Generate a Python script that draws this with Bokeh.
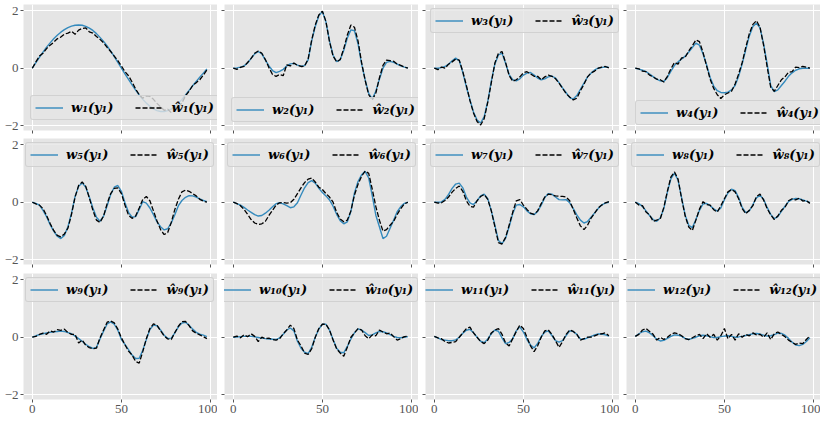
from bokeh.plotting import figure
from bokeh.models import Legend, LegendItem, FixedTicker
from bokeh.layouts import row, column
from bokeh.embed import file_html
from bokeh.resources import INLINE

x = list(range(0, 100, 2))

w1 = [0.00, 0.19, 0.38, 0.56, 0.73, 0.88, 1.02, 1.14, 1.25, 1.34,
      1.41, 1.46, 1.49, 1.50, 1.49, 1.45, 1.39, 1.31, 1.20, 1.07,
      0.93, 0.77, 0.59, 0.40, 0.20, 0.00, -0.20, -0.39, -0.58, -0.76,
      -0.93, -1.08, -1.21, -1.32, -1.41, -1.47, -1.50, -1.50, -1.47, -1.42,
      -1.33, -1.22, -1.08, -0.93, -0.77, -0.61, -0.46, -0.31, -0.17, -0.03]
h1 = [0.00, 0.22, 0.42, 0.52, 0.68, 0.80, 0.90, 1.02, 1.08, 1.18,
      1.22, 1.28, 1.18, 1.32, 1.38, 1.40, 1.26, 1.22, 1.10, 1.00,
      0.88, 0.72, 0.58, 0.42, 0.26, 0.08, -0.12, -0.26, -0.48, -0.72,
      -0.92, -1.04, -0.96, -0.98, -1.08, -1.22, -1.34, -1.46, -1.42, -1.54,
      -1.46, -1.34, -1.20, -0.96, -0.80, -0.60, -0.50, -0.40, -0.24, -0.06]

w2 = [0.00, 0.01, 0.04, 0.08, 0.18, 0.34, 0.50, 0.58, 0.50, 0.28,
      0.08, -0.08, -0.15, -0.11, -0.04, 0.08, 0.15, 0.17, 0.11, 0.07,
      0.09, 0.29, 0.95, 1.45, 1.82, 1.97, 1.60, 0.95, 0.45, 0.23,
      0.29, 0.62, 1.05, 1.33, 1.30, 0.85, 0.15, -0.40, -0.87, -1.06,
      -0.80, -0.38, 0.00, 0.20, 0.24, 0.20, 0.14, 0.08, 0.04, 0.01]
h2 = [0.00, -0.04, 0.03, 0.06, 0.20, 0.34, 0.52, 0.60, 0.52, 0.30,
      0.02, -0.22, -0.28, -0.22, -0.26, 0.12, 0.08, 0.18, 0.10, 0.06,
      0.07, 0.32, 0.98, 1.50, 1.85, 1.98, 1.62, 0.92, 0.42, 0.22,
      0.30, 0.68, 1.15, 1.50, 1.42, 0.95, 0.20, -0.42, -0.92, -1.10,
      -0.86, -0.34, 0.10, 0.28, 0.26, 0.24, 0.14, 0.10, 0.04, 0.00]

w3 = [0.00, 0.00, 0.02, 0.06, 0.14, 0.26, 0.35, 0.26, -0.15, -0.65,
      -1.10, -1.52, -1.80, -1.90, -1.68, -1.15, -0.45, 0.15, 0.46, 0.52,
      0.17, -0.22, -0.40, -0.44, -0.37, -0.24, -0.17, -0.15, -0.24, -0.34,
      -0.40, -0.37, -0.30, -0.27, -0.34, -0.50, -0.68, -0.85, -1.02, -1.07,
      -0.95, -0.73, -0.52, -0.31, -0.17, -0.06, 0.00, 0.02, 0.05, 0.03]
h3 = [0.00, -0.05, 0.04, 0.00, 0.14, 0.22, 0.32, 0.28, -0.12, -0.60,
      -1.12, -1.55, -1.85, -1.97, -1.75, -1.18, -0.50, 0.18, 0.52, 0.58,
      0.20, -0.25, -0.45, -0.40, -0.30, -0.16, -0.12, -0.20, -0.28, -0.28,
      -0.40, -0.30, -0.24, -0.28, -0.36, -0.52, -0.70, -0.88, -1.00, -1.10,
      -1.04, -0.78, -0.56, -0.30, -0.16, -0.10, 0.00, 0.04, 0.06, 0.01]

w4 = [0.00, -0.03, -0.07, -0.12, -0.20, -0.29, -0.38, -0.44, -0.46, -0.32,
      -0.10, 0.10, 0.22, 0.32, 0.42, 0.56, 0.72, 0.87, 0.80, 0.50,
      0.12, -0.32, -0.62, -0.78, -0.84, -0.85, -0.83, -0.75, -0.60, -0.28,
      0.15, 0.65, 1.12, 1.45, 1.56, 1.40, 0.85, 0.15, -0.60, -0.81,
      -0.75, -0.60, -0.45, -0.28, -0.16, -0.07, -0.02, 0.00, 0.00, 0.00]
h4 = [0.00, -0.02, -0.10, -0.12, -0.24, -0.30, -0.38, -0.40, -0.48, -0.28,
      -0.02, 0.20, 0.14, 0.36, 0.38, 0.60, 0.78, 0.98, 0.92, 0.55,
      0.08, -0.38, -0.70, -0.92, -1.05, -0.92, -0.86, -0.80, -0.55, -0.20,
      0.20, 0.72, 1.20, 1.52, 1.65, 1.42, 0.80, 0.05, -0.66, -0.80,
      -0.60, -0.40, -0.30, -0.14, -0.12, 0.04, 0.02, 0.06, 0.04, 0.00]

w5 = [0.00, -0.04, -0.10, -0.28, -0.50, -0.78, -1.00, -1.18, -1.26, -1.15,
      -0.85, -0.38, 0.20, 0.55, 0.67, 0.52, 0.18, -0.20, -0.52, -0.66,
      -0.48, -0.12, 0.27, 0.52, 0.58, 0.38, -0.02, -0.35, -0.52, -0.50,
      -0.25, 0.02, -0.03, -0.20, -0.43, -0.68, -0.85, -0.96, -0.92, -0.72,
      -0.43, -0.12, 0.06, 0.17, 0.23, 0.22, 0.18, 0.12, 0.06, 0.02]
h5 = [0.00, -0.06, -0.10, -0.22, -0.46, -0.74, -0.98, -1.15, -1.20, -1.10,
      -0.90, -0.42, 0.18, 0.58, 0.70, 0.55, 0.15, -0.28, -0.62, -0.70,
      -0.48, -0.05, 0.30, 0.48, 0.50, 0.30, -0.10, -0.45, -0.56, -0.48,
      -0.20, 0.10, 0.20, 0.05, -0.30, -0.65, -0.95, -1.12, -1.05, -0.70,
      -0.25, 0.10, 0.36, 0.42, 0.38, 0.30, 0.22, 0.10, 0.04, 0.00]

w6 = [0.00, -0.05, -0.10, -0.18, -0.27, -0.35, -0.43, -0.48, -0.46, -0.38,
      -0.28, -0.16, -0.05, -0.02, -0.06, -0.12, -0.19, -0.16, -0.02, 0.25,
      0.50, 0.68, 0.75, 0.66, 0.48, 0.34, 0.22, 0.08, -0.14, -0.42,
      -0.64, -0.75, -0.68, -0.32, 0.32, 0.72, 0.95, 1.07, 0.84, 0.22,
      -0.45, -0.85, -1.26, -1.18, -0.90, -0.62, -0.33, -0.15, -0.04, 0.00]
h6 = [0.00, -0.05, -0.12, -0.25, -0.42, -0.60, -0.72, -0.77, -0.75, -0.66,
      -0.46, -0.28, -0.10, -0.02, -0.01, -0.03, -0.02, 0.10, 0.30, 0.50,
      0.68, 0.80, 0.84, 0.70, 0.52, 0.44, 0.30, 0.18, 0.00, -0.35,
      -0.58, -0.68, -0.62, -0.30, 0.25, 0.62, 0.90, 1.08, 1.00, 0.45,
      -0.15, -0.62, -1.00, -0.95, -0.80, -0.66, -0.42, -0.22, -0.06, 0.00]

w7 = [0.00, 0.00, 0.01, 0.10, 0.27, 0.48, 0.63, 0.66, 0.50, 0.18,
      -0.02, -0.08, 0.05, 0.22, 0.28, 0.12, -0.30, -0.80, -1.33, -1.44,
      -1.25, -0.85, -0.40, -0.10, -0.08, -0.16, -0.30, -0.40, -0.43, -0.32,
      -0.10, 0.16, 0.30, 0.28, 0.18, 0.09, 0.08, 0.09, -0.02, -0.22,
      -0.44, -0.62, -0.72, -0.67, -0.52, -0.37, -0.22, -0.09, -0.03, 0.00]
h7 = [0.00, -0.03, -0.02, 0.06, 0.18, 0.35, 0.48, 0.56, 0.38, 0.05,
      -0.14, -0.17, 0.05, 0.20, 0.27, 0.10, -0.30, -0.85, -1.40, -1.45,
      -1.22, -0.80, -0.35, 0.05, 0.09, -0.10, -0.25, -0.38, -0.42, -0.30,
      -0.05, 0.18, 0.28, 0.26, 0.22, 0.21, 0.20, 0.18, 0.05, -0.25,
      -0.55, -0.82, -0.95, -0.80, -0.55, -0.38, -0.20, -0.10, -0.02, 0.02]

w8 = [0.00, -0.05, -0.15, -0.30, -0.46, -0.60, -0.66, -0.55, -0.22, 0.35,
      0.82, 1.01, 0.76, 0.15, -0.45, -0.80, -0.88, -0.60, -0.28, -0.06,
      -0.04, -0.12, -0.23, -0.31, -0.20, 0.09, 0.32, 0.45, 0.40, 0.16,
      -0.18, -0.36, -0.30, -0.08, 0.15, 0.24, 0.10, -0.18, -0.42, -0.57,
      -0.50, -0.32, -0.14, 0.02, 0.10, 0.13, 0.12, 0.08, 0.04, -0.01]
h8 = [0.00, -0.10, -0.12, -0.34, -0.44, -0.66, -0.62, -0.58, -0.18, 0.38,
      0.88, 1.05, 0.80, 0.12, -0.48, -0.86, -0.98, -0.62, -0.24, 0.02,
      -0.08, -0.10, -0.26, -0.34, -0.12, 0.12, 0.36, 0.44, 0.36, 0.12,
      -0.22, -0.40, -0.28, -0.12, 0.20, 0.28, 0.08, -0.22, -0.44, -0.60,
      -0.48, -0.28, -0.18, 0.05, 0.12, 0.08, 0.14, 0.04, 0.06, -0.04]

w9 = [0.00, 0.05, 0.09, 0.12, 0.15, 0.17, 0.19, 0.20, 0.21, 0.20,
      0.16, 0.12, 0.04, -0.05, -0.14, -0.25, -0.33, -0.39, -0.35, -0.06,
      0.21, 0.46, 0.53, 0.45, 0.25, -0.08, -0.25, -0.43, -0.62, -0.74,
      -0.73, -0.45, -0.08, 0.27, 0.42, 0.40, 0.25, 0.07, -0.04, -0.03,
      0.15, 0.36, 0.49, 0.52, 0.42, 0.28, 0.17, 0.11, 0.07, 0.02]
h9 = [0.00, 0.03, 0.10, 0.14, 0.10, 0.22, 0.18, 0.26, 0.24, 0.28,
      0.16, 0.10, 0.10, -0.20, -0.10, -0.28, -0.36, -0.40, -0.38, -0.02,
      0.25, 0.52, 0.56, 0.50, 0.28, -0.02, -0.26, -0.48, -0.62, -0.84,
      -0.90, -0.50, -0.05, 0.30, 0.46, 0.42, 0.22, 0.05, -0.06, -0.08,
      0.16, 0.38, 0.54, 0.55, 0.40, 0.22, 0.14, 0.08, 0.02, -0.05]

w10 = [0.00, 0.01, 0.02, 0.03, 0.03, 0.03, 0.01, -0.01, -0.03, -0.05,
       -0.06, -0.07, -0.08, -0.02, 0.10, 0.25, 0.32, 0.22, -0.14, -0.38,
       -0.52, -0.57, -0.35, 0.00, 0.28, 0.45, 0.45, 0.25, -0.08, -0.38,
       -0.52, -0.54, -0.32, -0.06, 0.15, 0.29, 0.25, 0.16, 0.06, 0.08,
       0.15, 0.20, 0.19, 0.15, 0.09, 0.03, -0.01, -0.02, 0.00, 0.02]
h10 = [0.00, 0.04, -0.02, 0.08, 0.02, 0.12, 0.03, -0.15, 0.00, -0.05,
       -0.03, -0.08, -0.10, -0.05, 0.12, 0.25, 0.42, 0.30, -0.10, -0.30,
       -0.55, -0.60, -0.40, 0.00, 0.30, 0.45, 0.45, 0.25, -0.10, -0.40,
       -0.55, -0.66, -0.35, 0.00, 0.15, 0.30, 0.25, 0.05, -0.05, 0.08,
       0.05, 0.25, 0.18, 0.12, 0.15, 0.02, -0.10, -0.05, 0.02, 0.03]

w11 = [0.03, -0.02, -0.08, -0.10, -0.12, -0.12, -0.09, 0.00, 0.14, 0.24,
       0.27, 0.16, 0.00, -0.14, -0.19, -0.06, 0.12, 0.25, 0.20, -0.02,
       -0.22, -0.18, -0.05, 0.22, 0.36, 0.18, -0.08, -0.27, -0.37, -0.22,
       0.02, 0.18, 0.22, 0.06, -0.12, -0.17, -0.12, 0.06, 0.22, 0.20,
       0.10, -0.06, -0.07, -0.02, 0.03, 0.08, 0.11, 0.11, 0.08, 0.04]
h11 = [0.03, -0.02, -0.05, -0.15, -0.20, -0.18, -0.15, 0.00, 0.15, 0.30,
       0.35, 0.15, 0.00, -0.15, -0.22, -0.10, 0.15, 0.25, 0.30, 0.10,
       -0.20, -0.30, -0.05, 0.20, 0.42, 0.30, 0.00, -0.30, -0.50, -0.30,
       0.00, 0.22, 0.25, 0.10, -0.12, -0.35, -0.15, 0.10, 0.25, 0.20,
       0.10, -0.10, -0.05, 0.00, 0.00, 0.05, 0.10, 0.12, 0.15, 0.05]

w12 = [0.03, 0.12, 0.19, 0.21, 0.15, 0.05, -0.07, -0.13, -0.11, -0.04,
       0.03, 0.08, 0.07, 0.03, -0.04, -0.08, -0.04, 0.00, 0.05, 0.07,
       0.05, 0.02, -0.01, -0.01, 0.02, 0.04, 0.05, 0.03, 0.00, 0.01,
       0.03, 0.06, 0.09, 0.12, 0.13, 0.11, 0.07, 0.04, 0.05, 0.09,
       0.14, 0.13, 0.07, -0.04, -0.17, -0.27, -0.29, -0.25, -0.15, -0.02]
h12 = [0.03, 0.10, 0.25, 0.30, 0.20, 0.10, -0.10, 0.00, -0.08, 0.00,
       0.10, 0.15, 0.12, 0.05, -0.05, -0.08, -0.02, 0.05, 0.10, -0.05,
       0.12, 0.00, 0.10, -0.10, 0.05, 0.30, -0.05, 0.10, -0.10, 0.12,
       0.00, 0.10, 0.05, 0.15, 0.08, 0.10, 0.00, 0.15, -0.08, 0.12,
       0.18, 0.10, 0.02, -0.10, -0.18, -0.25, -0.20, -0.22, -0.08, 0.05]

W = [w1, w2, w3, w4, w5, w6, w7, w8, w9, w10, w11, w12]
H = [h1, h2, h3, h4, h5, h6, h7, h8, h9, h10, h11, h12]

x_ticks = [0, 50, 100]
y_ticks = [-2, 0, 2]

# legend offsets (px from frame bottom-left)
legend_pos = [(7, 10), (7, 8), (5, 97), (9, 5),
              (2, 97), (3, 97), (5, 97), (5, 97),
              (2, 97), (-6, 97), (-5, 97), (-4, 97)]

SUB = str.maketrans("0123456789", "₀₁₂₃₄₅₆₇₈₉")
BLUE = "#348ABD"
BG = "#E5E5E5"
TICK = "#555555"

rows = []
for r in range(3):
    figs = []
    for c in range(4):
        i = r * 4 + c
        p = figure(frame_width=194, frame_height=126,
                   x_range=(-4.95, 103.95), y_range=(-2.16, 2.21),
                   output_backend="svg", toolbar_location=None, tools="")
        p.min_border_left = 21 if c == 0 else 7
        p.min_border_right = 0
        p.min_border_top = 0
        p.min_border_bottom = [8, 9, 0][r]
        p.background_fill_color = BG
        p.border_fill_color = "white"
        p.outline_line_color = None

        for ax, ticks, show in [(p.xaxis[0], x_ticks, r == 2), (p.yaxis[0], y_ticks, c == 0)]:
            ax.ticker = FixedTicker(ticks=ticks)
            ax.axis_line_color = None
            ax.major_tick_line_color = TICK
            ax.major_tick_in = 0
            ax.major_tick_out = 3
            ax.minor_tick_line_color = None
            if show:
                ax.major_label_standoff = 2
                ax.major_label_text_font = "Liberation Serif"
                ax.major_label_text_font_size = "13px"
                ax.major_label_text_color = TICK
                ax.major_label_overrides = {t: str(t).replace("-", "\u2212") for t in ticks}
            else:
                ax.major_label_standoff = 0
                ax.major_label_text_font_size = "0px"
                ax.major_label_overrides = {t: "" for t in ticks}

        p.xgrid.ticker = FixedTicker(ticks=x_ticks)
        p.ygrid.ticker = FixedTicker(ticks=y_ticks)
        for g in (p.xgrid[0], p.ygrid[0]):
            g.grid_line_color = "white"
            g.grid_line_width = 1

        rb = p.line(x, W[i], line_color=BLUE, line_width=1.4)
        rh = p.line(x, H[i], line_color="black", line_width=1.3, line_dash="5 2")

        n = str(i + 1).translate(SUB)
        leg = Legend(items=[LegendItem(label=f"w{n}(y\u2081)", renderers=[rb]),
                            LegendItem(label=f"\u0175{n}(y\u2081)", renderers=[rh])],
                     location=legend_pos[i], orientation="horizontal")
        leg.glyph_width = 28
        leg.glyph_height = 15
        leg.label_height = 15
        leg.label_standoff = 8
        leg.spacing = 22
        leg.padding = 4
        leg.margin = 0
        leg.label_text_font = "DejaVu Serif"
        leg.label_text_font_style = "bold italic"
        leg.label_text_font_size = "13px"
        leg.label_text_color = "black"
        leg.background_fill_color = BG
        leg.background_fill_alpha = 0.8
        leg.border_line_color = "#CCCCCC"
        leg.border_line_alpha = 0.8
        leg.border_line_width = 1
        if "border_radius" in Legend.properties():
            leg.border_radius = 3
        p.add_layout(leg)
        figs.append(p)
    rows.append(row(*figs))

layout = column(*rows, margin=(4, 0, 0, 1))
open("out.html", "w").write(file_html(layout, INLINE))
